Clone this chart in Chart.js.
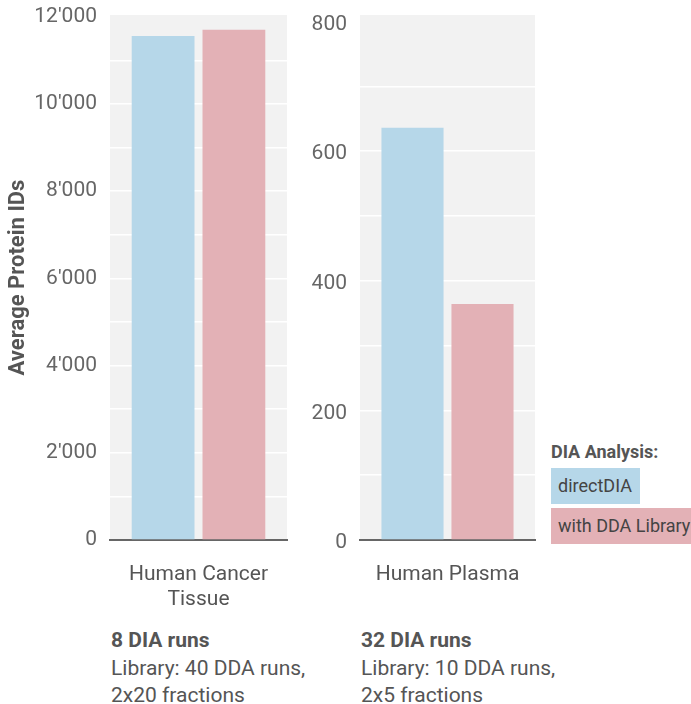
<!DOCTYPE html>
<html>
<head>
<meta charset="utf-8">
<script src="https://cdn.jsdelivr.net/npm/chart.js@4.4.1/dist/chart.umd.min.js"></script>
<style>
  body { margin: 0; width: 691px; height: 704px; position: relative; overflow: hidden; background: #fff; font-family: Roboto, sans-serif; }
  .panel { position: absolute; }
  .note { position: absolute; color: #555; font-size: 21px; line-height: 27.5px; white-space: nowrap; }
  .legend-title { position: absolute; left: 551px; top: 440px; font-weight: bold; font-size: 18px; line-height: 24px; color: #555; }
  .legend-item { position: absolute; left: 551px; height: 36px; line-height: 36px; padding: 0 8px 0 7px; font-size: 18px; color: #444; white-space: nowrap; }
</style>
</head>
<body>
<div class="panel" style="left:0;top:0;width:290px;height:620px"><canvas id="tissueChart"></canvas></div>
<div class="panel" style="left:290px;top:0;width:250px;height:620px"><canvas id="plasmaChart"></canvas></div>
<div class="note" id="tissueNote" style="left:111px;top:627px"></div>
<div class="note" id="plasmaNote" style="left:361px;top:627px"></div>
<div id="legend"></div>

<script>
// series names and colours
const seriesNames = ['directDIA', 'with DDA Library'];
const seriesColors = ['#b6d7e9', '#e3b1b6'];

// Human Cancer Tissue panel
const tissueLabels = [['Human Cancer', 'Tissue']];
const tissueDirect = [11560];
const tissueLibrary = [11700];
const tissueMax = 12040;
const tissueTop = 12000;
const tissueStep = 1000;
const tissueLabelStep = 2000;
const tissueNotes = ['8 DIA runs', 'Library: 40 DDA runs,', '2x20 fractions'];

// Human Plasma panel
const plasmaLabels = ['Human Plasma'];
const plasmaDirect = [636];
const plasmaLibrary = [364];
const plasmaMax = 810;
const plasmaTop = 800;
const plasmaStep = 100;
const plasmaLabelStep = 200;
const plasmaNotes = ['32 DIA runs', 'Library: 10 DDA runs,', '2x5 fractions'];

const legendTitle = 'DIA Analysis:';

// grey plot background
const plotBg = {
    id: 'plotBg',
    beforeDraw(chart) {
        const { ctx, chartArea: a } = chart;
        ctx.save();
        ctx.fillStyle = '#f2f2f2';
        ctx.fillRect(a.left, a.top, a.right - a.left, a.bottom - a.top);
        ctx.restore();
    }
};

function formatThousands(v) {
    return String(v).replace(/\B(?=(\d{3})+(?!\d))/g, "'");
}

function makeChart(id, labels, direct, library, max, top, step, labelStep, yWidth, rightPad, labelShift, title) {
    const ctx = document.getElementById(id).getContext('2d');
    return new Chart(ctx, {
        type: 'bar',
        data: {
            labels: labels,
            datasets: [{
                label: seriesNames[0],
                data: direct,
                backgroundColor: seriesColors[0]
            }, {
                label: seriesNames[1],
                data: library,
                backgroundColor: seriesColors[1]
            }]
        },
        options: {
            responsive: true,
            maintainAspectRatio: false,
            animation: false,
            categoryPercentage: 0.8,
            barPercentage: 0.887,
            layout: { padding: { top: 15, right: rightPad, left: 0, bottom: 0 } },
            plugins: {
                legend: { display: false },
                tooltip: { enabled: false }
            },
            scales: {
                x: {
                    grid: { display: false, drawTicks: false },
                    border: { display: true, color: '#666', width: 2 },
                    ticks: {
                        color: '#555',
                        padding: 22,
                        font: { family: 'Roboto', size: 21, lineHeight: '25px' }
                    },
                    afterFit: s => { s.height = 80; s.paddingLeft = 0; s.paddingRight = 0; }
                },
                y: {
                    min: 0,
                    max: max,
                    border: { display: false },
                    grid: {
                        // no white line on the top tick
                        color: c => (c.tick && c.tick.value === top ? 'rgba(255,255,255,0)' : '#ffffff'),
                        lineWidth: 1.5,
                        drawTicks: false
                    },
                    ticks: {
                        autoSkip: false,
                        padding: 13,
                        labelOffset: labelShift,
                        color: '#666',
                        font: { family: 'Roboto', size: 21 },
                        callback: v => (v % labelStep === 0 ? formatThousands(v) : '')
                    },
                    // gridline every step up to the top value, labels every labelStep
                    afterBuildTicks: s => {
                        const t = [];
                        for (let v = 0; v <= top; v += step) t.push({ value: v });
                        s.ticks = t;
                    },
                    title: {
                        display: !!title,
                        text: title,
                        color: '#555',
                        padding: { top: 5, bottom: 0 },
                        font: { family: 'Roboto', size: 22, weight: 'bold' }
                    },
                    afterFit: s => { s.width = yWidth; s.paddingTop = 0; s.paddingBottom = 0; }
                }
            }
        },
        plugins: [plotBg]
    });
}

makeChart('tissueChart', tissueLabels, tissueDirect, tissueLibrary, tissueMax, tissueTop,
    tissueStep, tissueLabelStep, 110, 3, 0, 'Average Protein IDs');
makeChart('plasmaChart', plasmaLabels, plasmaDirect, plasmaLibrary, plasmaMax, plasmaTop,
    plasmaStep, plasmaLabelStep, 70, 5, 3, '');

// run notes under each panel
function fillNote(id, notes) {
    const el = document.getElementById(id);
    el.innerHTML = '<b>' + notes[0] + '</b><br>' + notes.slice(1).join('<br>');
}
fillNote('tissueNote', tissueNotes);
fillNote('plasmaNote', plasmaNotes);

// legend boxes
const legendTops = [468, 508];
document.getElementById('legend').innerHTML =
    '<div class="legend-title">' + legendTitle + '</div>' +
    seriesNames.map((n, i) => '<div class="legend-item" style="top:' + legendTops[i] +
        'px;background:' + seriesColors[i] + '">' + n + '</div>').join('');
</script>
</body>
</html>
